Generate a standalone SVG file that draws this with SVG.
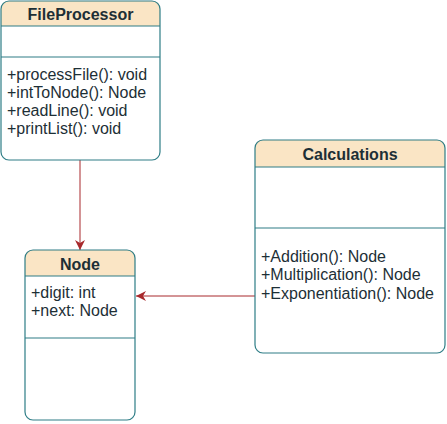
<svg xmlns="http://www.w3.org/2000/svg" width="447" height="424" viewBox="0 0 447 424">
<defs>
<style>
.box{fill:none;stroke:#2e7d86;stroke-width:1.2}
.hdr{fill:#fae5c5;stroke:none}
.sep{stroke:#2e7d86;stroke-width:1.2;fill:none}
.title{font-family:"Liberation Sans",Arial,sans-serif;font-size:16px;font-weight:bold;fill:#1d2f36;text-anchor:middle}
.txt{font-family:"Liberation Sans",Arial,sans-serif;font-size:16px;fill:#1d2f36}
.edge{stroke:#a8292c;stroke-width:1;fill:none}
</style>
<marker id="arr" viewBox="0 0 10 10" refX="10" refY="5" markerWidth="10" markerHeight="10" markerUnits="userSpaceOnUse" orient="auto">
<path d="M0,0 L10,5 L0,10 L3,5 Z" fill="#a8292c"/>
</marker>
</defs>
<g id="connectors">
<path class="edge" d="M80,160 L80,250" marker-end="url(#arr)"/>
<path class="edge" d="M255,296 L136,296" marker-end="url(#arr)"/>
</g>
<g id="FileProcessor">
<path class="hdr" d="M1,26 L1,9 Q1,1 9,1 L152,1 Q160,1 160,9 L160,26 Z"/>
<rect class="box" x="1" y="1" width="159" height="159" rx="8" ry="8"/>
<line class="sep" x1="1" y1="26" x2="160" y2="26"/>
<line class="sep" x1="1" y1="57" x2="160" y2="57"/>
<text class="title" x="80.5" y="20">FileProcessor</text>
<text class="txt" x="7" y="80">+processFile(): void</text>
<text class="txt" x="7" y="98">+intToNode(): Node</text>
<text class="txt" x="7" y="116">+readLine(): void</text>
<text class="txt" x="7" y="134">+printList(): void</text>
</g>
<g id="Calculations">
<path class="hdr" d="M255,167 L255,148 Q255,140 263,140 L437,140 Q445,140 445,148 L445,167 Z"/>
<rect class="box" x="255" y="140" width="190" height="213" rx="8" ry="8"/>
<line class="sep" x1="255" y1="167" x2="445" y2="167"/>
<line class="sep" x1="255" y1="228" x2="445" y2="228"/>
<text class="title" x="350" y="160">Calculations</text>
<text class="txt" x="261" y="262">+Addition(): Node</text>
<text class="txt" x="261" y="280">+Multiplication(): Node</text>
<text class="txt" x="261" y="299">+Exponentiation(): Node</text>
</g>
<g id="Node">
<path class="hdr" d="M25,276 L25,258 Q25,250 33,250 L127,250 Q135,250 135,258 L135,276 Z"/>
<rect class="box" x="25" y="250" width="110" height="170" rx="8" ry="8"/>
<line class="sep" x1="25" y1="276" x2="135" y2="276"/>
<line class="sep" x1="25" y1="338" x2="135" y2="338"/>
<text class="title" x="80" y="270">Node</text>
<text class="txt" x="31" y="298">+digit: int</text>
<text class="txt" x="31" y="316">+next: Node</text>
</g>
</svg>
